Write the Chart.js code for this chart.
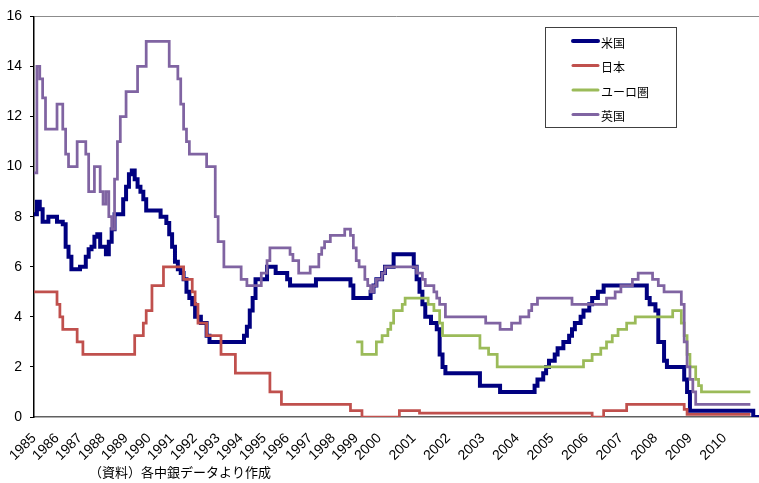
<!DOCTYPE html>
<html lang="ja">
<head>
<meta charset="utf-8">
<title>主要国の政策金利</title>
<script src="https://cdn.jsdelivr.net/npm/chart.js@4.4.1/dist/chart.umd.min.js"></script>
<style>
  html, body { margin: 0; padding: 0; background: #fff; }
  #wrap { width: 759px; height: 483px; position: relative; }
</style>
</head>
<body>
<div id="wrap"><canvas id="rateChart"></canvas></div>
<script>
// 横軸の区分: 1985-1999年は年8区分、2000年以降は月次
const earlyMonths = ['01', '03', '04', '06', '07', '09', '10', '12'];
const lateMonths = ['01', '02', '03', '04', '05', '06', '07', '08', '09', '10', '11', '12'];
const years = [];
for (let y = 1985; y <= 2010; y++) years.push(y);

const periods = [];
years.forEach(y => {
    (y < 2000 ? earlyMonths : lateMonths).forEach(m => periods.push(y + '/' + m));
});
periods.push('2011/01');

// 政策金利の変更時点と水準 (%)
const usDates = [
    '1985/01', '1985/03', '1985/04', '1985/06', '1985/09', '1986/01', '1986/04', '1986/06', '1986/07', '1986/09',
    '1987/01', '1987/04', '1987/06', '1987/07', '1987/09', '1987/10', '1987/12', '1988/03', '1988/04', '1988/06',
    '1988/07', '1988/12', '1989/01', '1989/03', '1989/04', '1989/06', '1989/07', '1989/09', '1989/10', '1989/12',
    '1990/07', '1990/10', '1990/12', '1991/01', '1991/03', '1991/04', '1991/06', '1991/07', '1991/09', '1991/10',
    '1991/12', '1992/01', '1992/04', '1992/07', '1992/09', '1994/03', '1994/04', '1994/06', '1994/07', '1994/09',
    '1995/03', '1995/07', '1996/01', '1996/03', '1997/04', '1998/10', '1998/12', '1999/09', '1999/10', '1999/12',
    '2000/02', '2000/03', '2000/06', '2001/01', '2001/02', '2001/03', '2001/04', '2001/05', '2001/07', '2001/09',
    '2001/10', '2001/11', '2001/12', '2002/12', '2003/07', '2004/07', '2004/08', '2004/10', '2004/11', '2004/12',
    '2005/02', '2005/03', '2005/05', '2005/07', '2005/08', '2005/09', '2005/11', '2005/12', '2006/02', '2006/03',
    '2006/05', '2006/07', '2007/10', '2007/11', '2008/01', '2008/02', '2008/04', '2008/05', '2008/11', '2008/12',
    '2009/01', '2010/10', '2010/11', '2011/01'
];
const usRates = [
    8.1, 8.6, 8.3, 7.8, 8.0, 7.8, 7.7, 6.8, 6.4, 5.9,
    6.0, 6.4, 6.7, 6.8, 7.2, 7.3, 6.8, 6.5, 7.0, 7.5,
    8.1, 8.7, 9.2, 9.7, 9.85, 9.5, 9.2, 9.0, 8.7, 8.25,
    8.0, 7.75, 7.3, 6.8, 6.2, 5.9, 5.75, 5.5, 5.0, 4.75,
    4.5, 4.0, 3.75, 3.25, 3.0, 3.25, 3.6, 4.25, 4.75, 5.5,
    6.0, 5.75, 5.5, 5.25, 5.5, 5.25, 4.75, 5.0, 5.25, 5.5,
    5.75, 6.0, 6.5, 6.0, 5.5, 5.0, 4.5, 4.0, 3.75, 3.5,
    2.5, 2.0, 1.75, 1.25, 1.0, 1.25, 1.5, 1.75, 2.0, 2.25,
    2.5, 2.75, 3.0, 3.25, 3.5, 3.75, 4.0, 4.25, 4.5, 4.75,
    5.0, 5.25, 4.75, 4.5, 4.25, 3.0, 2.25, 2.0, 1.5, 1.0,
    0.25, 0.25, 0, 0
];

const jpDates = [
    '1985/01', '1986/01', '1986/03', '1986/04', '1986/12', '1987/03', '1989/06', '1989/10', '1989/12', '1990/03',
    '1990/09', '1991/07', '1991/12', '1992/01', '1992/03', '1992/07', '1993/03', '1993/10', '1995/04', '1995/10',
    '1998/10', '1999/04', '2000/08', '2001/03', '2006/03', '2006/07', '2007/03', '2008/11', '2008/12', '2010/10'
];
const jpRates = [
    5.0, 4.5, 4.0, 3.5, 3.0, 2.5, 3.25, 3.75, 4.25, 5.25,
    6.0, 5.5, 5.0, 4.5, 3.75, 3.25, 2.5, 1.75, 1.0, 0.5,
    0.25, 0, 0.25, 0.15, 0, 0.25, 0.5, 0.3, 0.1, 0.1
];

const euDates = [
    '1999/01', '1999/04', '1999/12', '2000/02', '2000/04', '2000/05', '2000/06', '2000/09', '2000/10', '2001/06',
    '2001/08', '2001/10', '2001/11', '2002/12', '2003/03', '2003/06', '2005/12', '2006/03', '2006/06', '2006/08',
    '2006/10', '2006/12', '2007/03', '2007/06', '2008/07', '2008/10', '2008/11', '2008/12', '2009/01', '2009/03',
    '2009/04', '2009/05', '2010/10'
];
const euRates = [
    3.0, 2.5, 3.0, 3.25, 3.5, 3.75, 4.25, 4.5, 4.75, 4.5,
    4.25, 3.75, 3.25, 2.75, 2.5, 2.0, 2.25, 2.5, 2.75, 3.0,
    3.25, 3.5, 3.75, 4.0, 4.25, 3.75, 3.25, 2.5, 2.0, 1.5,
    1.25, 1.0, 1.0
];

const ukDates = [
    '1985/01', '1985/03', '1985/04', '1985/06', '1985/07', '1986/01', '1986/04', '1986/06', '1986/07', '1986/12',
    '1987/04', '1987/06', '1987/09', '1987/12', '1988/01', '1988/03', '1988/04', '1988/06', '1988/07', '1988/09',
    '1988/10', '1989/01', '1989/07', '1989/12', '1990/12', '1991/04', '1991/06', '1991/07', '1991/09', '1991/10',
    '1992/07', '1992/12', '1993/01', '1993/04', '1994/01', '1994/04', '1994/12', '1995/03', '1995/04', '1996/03',
    '1996/04', '1996/07', '1997/01', '1997/06', '1997/07', '1997/09', '1997/12', '1998/07', '1998/10', '1998/12',
    '1999/01', '1999/03', '1999/06', '1999/07', '1999/09', '1999/10', '1999/12', '2000/02', '2000/03', '2001/02',
    '2001/04', '2001/05', '2001/08', '2001/09', '2001/10', '2001/12', '2003/02', '2003/07', '2003/11', '2004/02',
    '2004/05', '2004/06', '2004/08', '2005/08', '2006/08', '2006/11', '2007/01', '2007/05', '2007/07', '2007/12',
    '2008/02', '2008/04', '2008/10', '2008/11', '2008/12', '2009/01', '2009/02', '2009/03', '2010/10'
];
const ukRates = [
    9.75, 14.0, 13.5, 12.75, 11.5, 12.5, 11.5, 10.5, 10.0, 11.0,
    10.5, 9.0, 10.0, 9.0, 8.5, 9.0, 8.0, 7.5, 9.5, 11.0,
    12.0, 13.0, 14.0, 15.0, 14.0, 13.5, 12.5, 11.5, 11.0, 10.5,
    10.0, 8.0, 7.0, 6.0, 5.5, 5.25, 5.75, 6.25, 6.75, 6.5,
    6.25, 5.75, 6.0, 6.5, 6.75, 7.0, 7.25, 7.5, 7.25, 6.75,
    6.25, 6.0, 5.5, 5.25, 5.0, 5.25, 5.5, 5.75, 6.0, 5.75,
    5.5, 5.25, 5.0, 4.75, 4.5, 4.0, 3.75, 3.5, 3.75, 4.0,
    4.25, 4.5, 4.75, 4.5, 4.75, 5.0, 5.25, 5.5, 5.75, 5.5,
    5.25, 5.0, 4.5, 3.0, 2.0, 1.5, 1.0, 0.5, 0.5
];

const seriesNames = ['米国', '日本', 'ユーロ圏', '英国'];
const seriesColors = ['#000080', '#C0504D', '#9BBB59', '#8064A2'];
const yTicks = [0, 2, 4, 6, 8, 10, 12, 14, 16];
const sourceNote = '（資料）各中銀データより作成';

const toPoints = (dates, rates) => dates.map((d, i) => ({ x: d, y: rates[i] }));

// 凡例 (プロット内の枠付き) と出所
const boxLegend = {
    id: 'boxLegend',
    afterDraw(chart) {
        const ctx = chart.ctx;
        ctx.save();
        ctx.strokeStyle = '#404040';
        ctx.lineWidth = 1;
        ctx.strokeRect(545.5, 27.5, 131, 100);
        ctx.font = '12px "Noto Sans CJK JP"';
        ctx.textBaseline = 'middle';
        ctx.fillStyle = '#000';
        chart.data.datasets.forEach((ds, i) => {
            const y = 41 + i * 24.5;
            ctx.strokeStyle = ds.borderColor;
            ctx.lineWidth = i === 0 ? 4 : 3;
            ctx.lineCap = 'round';
            ctx.beginPath();
            ctx.moveTo(573, y);
            ctx.lineTo(598, y);
            ctx.stroke();
            ctx.fillText(ds.label, 601, y + 2);
        });
        ctx.font = '13px "Noto Sans CJK JP"';
        ctx.fillText(sourceNote, 89, 472);
        ctx.restore();
    }
};

const lineSet = (i, dates, rates, width, order) => ({
    label: seriesNames[i],
    data: toPoints(dates, rates),
    borderColor: seriesColors[i],
    backgroundColor: seriesColors[i],
    borderWidth: width,
    stepped: true,
    pointRadius: 0,
    fill: false,
    order: order
});

new Chart(document.getElementById('rateChart'), {
    type: 'line',
    data: {
        labels: periods,
        datasets: [
            lineSet(0, usDates, usRates, 4, 3),
            lineSet(1, jpDates, jpRates, 2.75, 2),
            lineSet(2, euDates, euRates, 2.75, 1),
            lineSet(3, ukDates, ukRates, 2.75, 0)
        ]
    },
    options: {
        responsive: true,
        maintainAspectRatio: false,
        animation: false,
        layout: { padding: { top: 12, right: 0, bottom: 0, left: 0 } },
        plugins: {
            legend: { display: false },
            tooltip: { enabled: false }
        },
        scales: {
            x: {
                type: 'category',
                offset: false,
                grid: { display: false },
                border: { color: '#606060', width: 1.5 },
                ticks: {
                    autoSkip: false,
                    maxRotation: 45,
                    minRotation: 45,
                    padding: 5,
                    color: '#000',
                    font: { family: '"Liberation Sans", Arial, sans-serif', size: 14 },
                    callback: function (value) {
                        const lab = this.getLabelForValue(value);
                        const yr = +lab.slice(0, 4);
                        return lab.endsWith('/01') && years.includes(yr) ? String(yr) : '';
                    }
                },
                afterFit: scale => {
                    scale.height = 66;
                    scale.paddingLeft = 0;
                    scale.paddingRight = 0;
                }
            },
            y: {
                min: 0,
                max: 16,
                afterBuildTicks: scale => { scale.ticks = yTicks.map(v => ({ value: v })); },
                grid: {
                    color: ctx => (ctx.tick && ctx.tick.value === 16 ? '#8c8c8c' : 'rgba(0,0,0,0)'),
                    tickColor: '#000',
                    tickLength: 4
                },
                border: { color: '#000', width: 1.5 },
                ticks: {
                    padding: 8,
                    color: '#000',
                    font: { family: '"Liberation Sans", Arial, sans-serif', size: 14 }
                },
                afterFit: scale => { scale.width = 34; }
            }
        }
    },
    plugins: [boxLegend]
});
</script>
</body>
</html>
